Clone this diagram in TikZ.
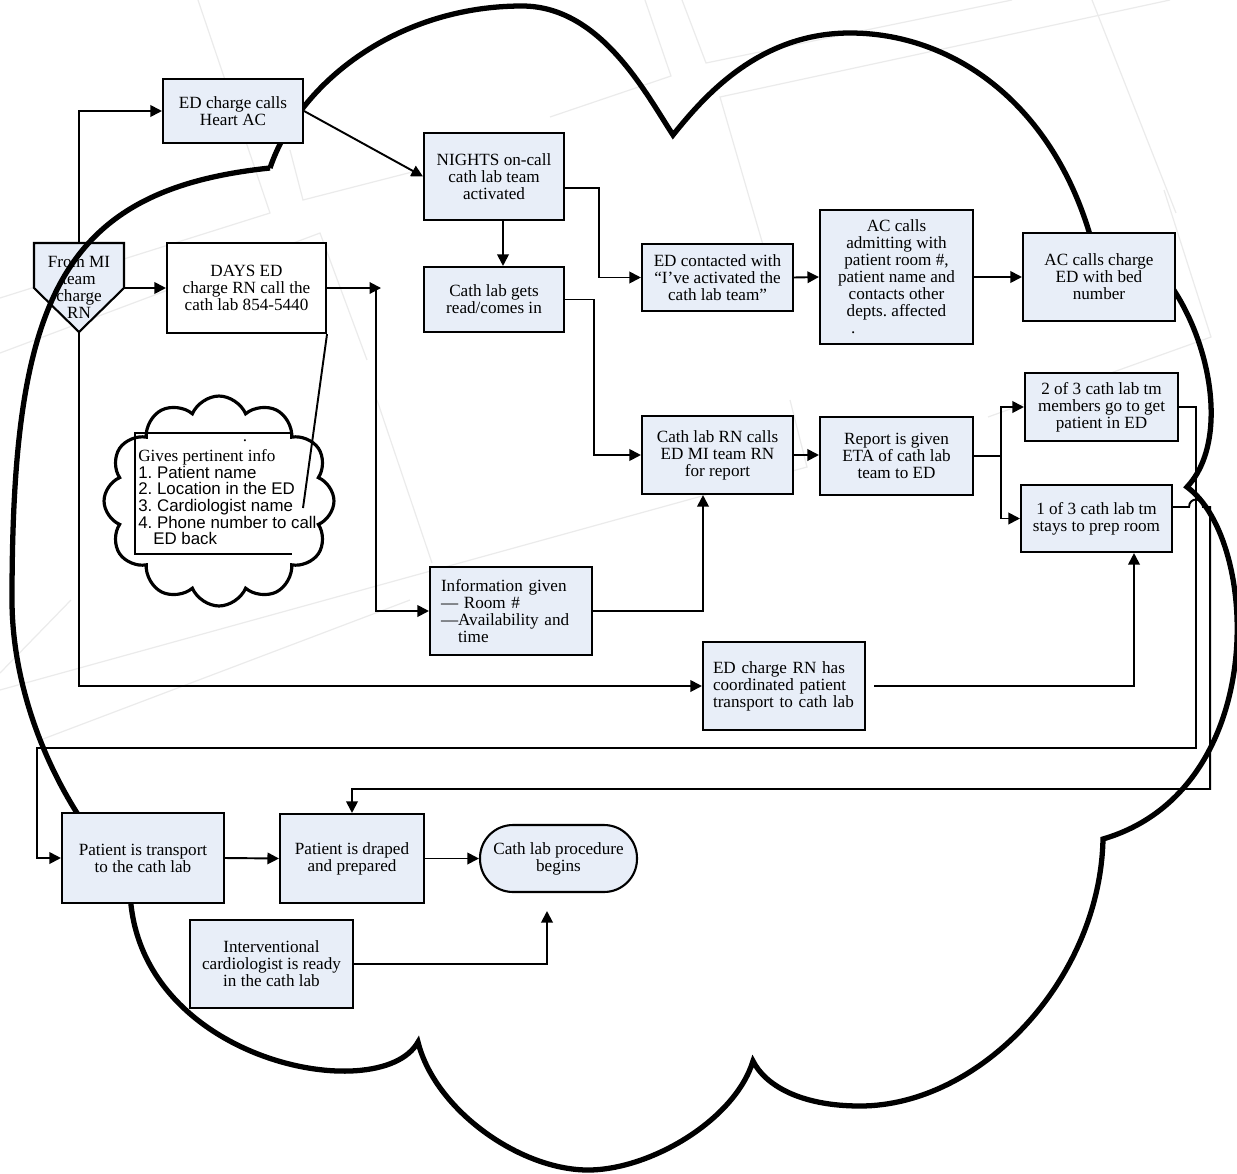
\documentclass[tikz,border=0pt]{standalone}
\usepackage{fontspec}
\setmainfont{Liberation Serif}
\setsansfont{Liberation Sans}
\usepackage{tikz}
\usetikzlibrary{arrows.meta,backgrounds,shapes.symbols}
\definecolor{boxfill}{RGB}{232,238,248}
\frenchspacing

\begin{document}
\begin{tikzpicture}
[x=0.02cm,y=-0.02cm,
 box/.style={draw=black,line width=1.2pt,fill=boxfill,align=center,inner sep=0pt,font=\fontsize{9.75}{9.7}\selectfont},
 arr/.style={line width=1.1pt,-{Triangle[length=0.23cm,width=0.23cm]}},
 wire/.style={line width=1.1pt},
 border/.style={line width=3pt},
 faint/.style={draw=black!8,line width=0.7pt}]
\useasboundingbox (0,0) rectangle (1237,1173);

\begin{pgfonlayer}{background}
\draw[faint] (198,0) -- (270,213) -- (0,298);
\draw[faint] (290,150) -- (303,200) -- (420,170);
\draw[faint] (0,353) -- (320,233) -- (367,360);
\draw[faint] (645,0) -- (671,76) -- (550,117);
\draw[faint] (682,0) -- (706,63) -- (1012,0);
\draw[faint] (1170,0) -- (720,97) -- (779,300);
\draw[faint] (1092,0) -- (1176,213);
\draw[faint] (1164,190) -- (1211,337) -- (988,417);
\draw[faint] (377,400) -- (432,563);
\draw[faint] (0,690) -- (807,467) -- (790,400);
\draw[faint] (43,739) -- (410,600);
\draw[faint] (0,673) -- (71,600);

\draw[line width=1.2pt,fill=boxfill] (34,243) -- (124,243) -- (124,288) -- (79,332) -- (34,288) -- cycle;
\node[font=\fontsize{9.75}{9.7}\selectfont,align=center,inner sep=0pt] (frommi) at (79,287) {From MI\\team\\charge\\RN};
\coordinate (mitop) at (79,243);
\coordinate (miright) at (124,288);
\coordinate (mitip) at (79,332);

\draw[border] (270,168)
  .. controls (300,80) and (400,6) .. (522,6)
  .. controls (600,6) and (645,92) .. (673,135)
  .. controls (705,95) and (760,33) .. (850,33)
  .. controls (950,33) and (1050,100) .. (1090,235)
  .. controls (1180,230) and (1250,420) .. (1187,487)
  .. controls (1260,540) and (1270,790) .. (1103,839)
  .. controls (1100,980) and (980,1106) .. (860,1106)
  .. controls (800,1106) and (765,1085) .. (753,1061)
  .. controls (735,1120) and (650,1170) .. (588,1170)
  .. controls (520,1170) and (435,1110) .. (418,1042)
  .. controls (380,1110) and (125,1060) .. (130,880)
  .. controls (60,810) and (12,700) .. (12,600)
  .. controls (12,300) and (60,190) .. (270,168);
\end{pgfonlayer}

\node[box,minimum width=2.8cm,minimum height=1.28cm] (heartac) at (233,111) {ED charge calls\\Heart AC};
\node[box,fill=white,minimum width=3.18cm,minimum height=1.8cm] (days) at (246.5,288) {DAYS ED\\charge RN call the\\cath lab 854-5440};
\node[box,minimum width=2.8cm,minimum height=1.74cm] (nights) at (494,176.5) {NIGHTS on-call\\cath lab team\\activated};
\node[box,minimum width=2.8cm,minimum height=1.3cm] (cathgets) at (494,299.5) {Cath lab gets\\read/comes in};
\node[box,minimum width=3.02cm,minimum height=1.34cm] (edcontact) at (717.5,277.5) {ED contacted with\\“I’ve activated the\\cath lab team”};
\node[box,minimum width=3.06cm,minimum height=2.68cm] (acadmit) at (896.5,277) {AC calls\\admitting with\\patient room \#,\\patient name and\\contacts other\\depts. affected\\\makebox[3.06cm][l]{\hspace{0.62cm}.}};
\node[box,minimum width=3.04cm,minimum height=1.76cm] (accharge) at (1099,277) {AC calls charge\\ED with bed\\number};
\node[box,minimum width=3.02cm,minimum height=1.56cm] (rncalls) at (717.5,455) {Cath lab RN calls\\ED MI team RN\\for report};
\node[box,minimum width=3.06cm,minimum height=1.56cm] (report) at (896.5,456) {Report is given\\ETA of cath lab\\team to ED};
\node[box,minimum width=3.06cm,minimum height=1.36cm] (twoof3) at (1101.5,407) {2 of 3 cath lab tm\\members go to get\\patient in ED};
\node[box,minimum width=3.02cm,minimum height=1.34cm] (oneof3) at (1096.5,518.5) {1 of 3 cath lab tm\\stays to prep room};
\node[box,align=left,text width=2.8cm,inner xsep=0.22cm,minimum height=1.76cm] (info) at (511,611) {Information given\\— Room \#\\—Availability and\\\phantom{—}time};
\node[box,align=left,text width=2.84cm,inner xsep=0.2cm,minimum height=1.76cm] (edrn) at (784,686) {ED charge RN has\\coordinated patient\\transport to cath lab};
\node[box,minimum width=3.24cm,minimum height=1.8cm] (transport) at (143,858) {Patient is transport\\to the cath lab};
\node[box,minimum width=2.88cm,minimum height=1.78cm] (draped) at (352,858.5) {Patient is draped\\and prepared};
\node[box,rounded corners=0.66cm,minimum width=3.14cm,minimum height=1.34cm] (procedure) at (558.5,858.5) {Cath lab procedure\\begins};
\node[box,minimum width=3.26cm,minimum height=1.76cm] (interv) at (271.5,964) {Interventional\\cardiologist is ready\\in the cath lab};
\coordinate (procin) at (547,911);

\node[cloud,draw,line width=1.8pt,cloud puffs=12,cloud puff arc=135,aspect=1.1,minimum width=4.6cm,minimum height=4.2cm] (note) at (219,501) {};
\draw[wire] (292,433) -| (135,554) -- (292,554);
\node[inner sep=0pt,font=\fontsize{9.75}{9.7}\selectfont] (notedot) at (245,441) {.};
\node[anchor=north west,align=left,inner sep=0pt,font=\sffamily\fontsize{9.6}{9.5}\selectfont] (notetext) at (138,449) {{\rmfamily\fontsize{9.75}{9.5}\selectfont Gives pertinent info}\\1. Patient name\\2. Location in the ED\\3. Cardiologist name\\4. Phone number to call\\\hspace*{0.3cm}ED back};
\coordinate (calltip) at (303,508);

\draw[arr] (mitop) |- (heartac.west);
\draw[arr] (miright) -- (days.west);
\draw[arr] (mitip) |- (edrn.west);
\draw[arr] (heartac.east) -- (nights.west);
\draw[arr] ([xshift=0.18cm]nights.south) -- ([xshift=0.18cm]cathgets.north);
\draw[arr] ([yshift=-0.23cm]nights.east) -- ++(34,0) |- (edcontact.west);
\draw[arr] (cathgets.east) -- ++(29,0) |- (rncalls.west);
\draw[arr] (edcontact.east) -- (acadmit.west);
\draw[arr] (acadmit.east) -- (accharge.west);
\draw[arr] (rncalls.east) -- (rncalls.east -| report.west);
\draw[arr] (report.east) -- ++(27,0) |- (twoof3.west);
\draw[arr] (report.east) ++(27,0) |- (oneof3.west);
\draw[arr] (days.east) -- ++(54,0);
\draw[arr] ([xshift=0.98cm]days.east) |- (info.west);
\draw[arr] (info.east) -| ([xshift=-0.29cm]rncalls.south);
\draw[arr] ([xshift=0.16cm]edrn.east) -| ([xshift=0.75cm]oneof3.south);
\draw[arr] (twoof3.east) -- ++(17,0) |- (37,748) |- (transport.west);
\draw[arr] ([yshift=0.23cm]oneof3.east) -- ++(16,0) .. controls +(0,-10) and +(0,-10) .. ++(14,0) -- ++(7,0) |- (352,789) -- (draped.north);
\draw[arr] (transport.east) -- (draped.west);
\draw[arr] (draped.east) -- (procedure.west);
\draw[arr] (interv.east) -| (procin);
\draw[wire] (days.south east) -- (calltip);
\end{tikzpicture}
\end{document}
